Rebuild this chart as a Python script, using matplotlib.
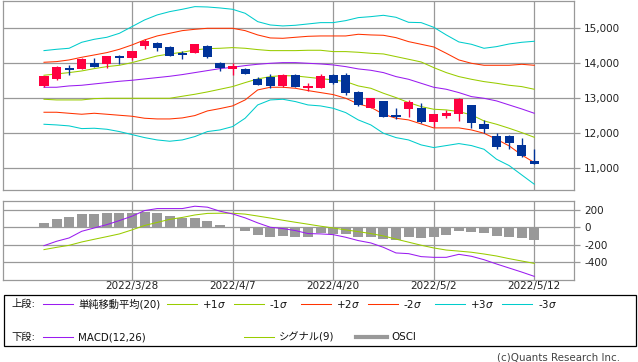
import matplotlib
matplotlib.use("Agg")
import matplotlib.pyplot as plt
from matplotlib.lines import Line2D
from matplotlib.patches import Rectangle

# ---------------- data ----------------
xtick_pos = [7, 15, 23, 31, 39]
xtick_labels = ["2022/3/28", "2022/4/7", "2022/4/20", "2022/5/2", "2022/5/12"]

opens = [13360, 13551, 13866, 13837, 14009, 13989, 14209, 14160, 14503, 14589,
         14466, 14274, 14303, 14494, 14017, 13846, 13846, 13551, 13617, 13351,
         13666, 13294, 13303, 13666, 13657, 13180, 12731, 12923, 12531, 12703,
         12723, 12331, 12503, 12560, 12809, 12266, 11923, 11923, 11666, 11209]
highs = [13650, 13923, 13951, 14140, 14151, 14220, 14237, 14351, 14686, 14609,
         14480, 14360, 14551, 14520, 14037, 13997, 13870, 13617, 13686, 13694,
         13694, 13446, 13694, 13694, 13731, 13217, 13000, 12923, 12731, 12951,
         12857, 12551, 12666, 13017, 12809, 12380, 12000, 11951, 11874, 11551]
lows = [13310, 13523, 13674, 13837, 13903, 13874, 13989, 14094, 14417, 14351,
        14217, 14123, 14280, 14160, 13780, 13674, 13703, 13380, 13286, 13331,
        13331, 13209, 13290, 13409, 13103, 12789, 12720, 12474, 12409, 12457,
        12294, 12180, 12446, 12360, 12160, 12000, 11551, 11560, 11331, 11131]
closes = [13637, 13894, 13817, 14123, 13903, 14209, 14160, 14351, 14637, 14446,
          14217, 14246, 14551, 14189, 13866, 13931, 13703, 13380, 13351, 13657,
          13331, 13360, 13646, 13446, 13143, 12817, 13000, 12474, 12474, 12903,
          12323, 12551, 12589, 12989, 12303, 12131, 11617, 11731, 11360, 11131]

ma20 = [13315, 13315, 13353, 13372, 13410, 13448, 13486, 13515, 13553, 13591,
        13629, 13677, 13734, 13791, 13848, 13886, 13934, 13972, 14000, 14019,
        14019, 14000, 13981, 13953, 13905, 13839, 13800, 13734, 13620, 13543,
        13429, 13315, 13258, 13163, 13048, 13000, 12925, 12810, 12696, 12572]
up1 = [13658, 13696, 13734, 13781, 13848, 13905, 13943, 14019, 14115, 14210,
       14267, 14315, 14381, 14419, 14429, 14448, 14429, 14391, 14362, 14362,
       14362, 14372, 14372, 14334, 14334, 14315, 14286, 14267, 14191, 14115,
       14038, 13877, 13734, 13620, 13543, 13477, 13429, 13372, 13334, 13258]
dn1 = [12972, 12953, 12953, 12953, 12991, 13000, 13000, 13000, 13000, 13000,
       13000, 13058, 13115, 13182, 13258, 13334, 13448, 13553, 13620, 13648,
       13639, 13601, 13563, 13524, 13477, 13353, 13286, 13144, 13020, 12877,
       12763, 12687, 12668, 12620, 12525, 12354, 12258, 12144, 12020, 11886]
up2 = [14029, 14048, 14096, 14172, 14238, 14305, 14400, 14524, 14667, 14781,
       14857, 14933, 14971, 15000, 15000, 15000, 14933, 14810, 14724, 14714,
       14743, 14771, 14781, 14781, 14781, 14829, 14810, 14800, 14733, 14619,
       14543, 14467, 14286, 14096, 14000, 13943, 13943, 13943, 13971, 13943]
dn2 = [12601, 12601, 12572, 12544, 12572, 12544, 12515, 12487, 12430, 12410,
       12410, 12439, 12506, 12639, 12706, 12782, 12953, 13239, 13315, 13315,
       13286, 13220, 13163, 13106, 13001, 12839, 12744, 12544, 12430, 12382,
       12268, 12154, 12154, 12154, 12096, 12001, 11830, 11640, 11382, 11163]
up3 = [14362, 14400, 14429, 14600, 14686, 14743, 14857, 15048, 15238, 15381,
       15476, 15543, 15619, 15609, 15581, 15543, 15429, 15190, 15095, 15067,
       15086, 15124, 15162, 15162, 15219, 15305, 15333, 15371, 15314, 15171,
       15162, 15029, 14810, 14610, 14543, 14429, 14476, 14552, 14600, 14629]
dn3 = [12258, 12239, 12211, 12134, 12144, 12115, 12049, 11963, 11877, 11810,
       11773, 11810, 11906, 12049, 12096, 12191, 12430, 12810, 12953, 12972,
       12906, 12810, 12782, 12715, 12591, 12382, 12239, 12001, 11877, 11810,
       11668, 11592, 11649, 11706, 11649, 11544, 11258, 11078, 10811, 10545]

macd = [-210, -160, -122, -46, -8, 30, 76, 126, 190, 213,
        213, 213, 240, 229, 183, 152, 107, 50, 0, -15,
        -38, -72, -76, -84, -114, -152, -179, -229, -293, -301,
        -335, -343, -343, -309, -331, -370, -419, -465, -511, -560]
signal = [-255, -229, -206, -168, -137, -107, -76, -30, 20, 55,
          90, 112, 140, 158, 160, 160, 150, 128, 105, 80,
          57, 35, 12, -8, -30, -50, -72, -99, -135, -170,
          -205, -236, -260, -272, -285, -305, -328, -358, -385, -412]
osci = [49, 94, 117, 151, 152, 163, 163, 163, 174, 163,
        129, 106, 106, 72, 26, 0, -38, -87, -108, -100,
        -108, -108, -63, -78, -82, -108, -108, -133, -140, -108,
        -120, -108, -84, -40, -57, -63, -97, -108, -120, -143]

y_ticks_top = [11000, 12000, 13000, 14000, 15000]
y_ticks_bot = [-400, -200, 0, 200]

# ---------------- style ----------------
W, H = 638, 362
C_MA = "#9a1cf0"
C_S1 = "#99cc00"
C_S2 = "#ff3300"
C_S3 = "#00cccc"
C_UP = "#ff0040"
C_DN = "#003399"
C_GRID = "#999999"
C_BAR = "#999999"
LW = 0.75

def fx(px):
    return px / W

def fy(py):
    return 1 - py / H

fig = plt.figure(figsize=(W / 100, H / 100), dpi=100)
fig.patch.set_facecolor("white")

ax1 = fig.add_axes([fx(3), fy(190.3), (574 - 3) / W, (190.3 - 0.5) / H])
ax2 = fig.add_axes([fx(3), fy(280.3), (574 - 3) / W, (280.3 - 201.3) / H])

n = len(closes)
xs = list(range(n))
xlim = (-3.26, 42.16)

for ax in (ax1, ax2):
    ax.set_xlim(*xlim)
    for sp in ax.spines.values():
        sp.set_color(C_GRID)
        sp.set_linewidth(LW * 1.2)
    ax.yaxis.tick_right()
    ax.set_xticks(xtick_pos)
    ax.grid(True, color=C_GRID, linewidth=LW * 1.2, zorder=0)
    ax.set_axisbelow(True)
    ax.tick_params(axis="y", direction="out", length=4.3, width=LW * 1.2,
                   color=C_GRID, labelsize=7.5, pad=3, labelcolor="#222222")

ax1.tick_params(axis="x", length=0, labelbottom=False)
ax2.tick_params(axis="x", length=0, pad=0.5, labelsize=7.5, labelcolor="#222222")
ax2.set_xticklabels(xtick_labels)

# ---------------- top panel ----------------
ax1.set_ylim(10371, 15794)
ax1.set_yticks(y_ticks_top)
ax1.set_yticklabels([f"{v:,}" for v in y_ticks_top])

for arr, c in ((up3, C_S3), (dn3, C_S3), (up2, C_S2), (dn2, C_S2),
               (up1, C_S1), (dn1, C_S1), (ma20, C_MA)):
    ax1.plot(xs, arr, color=c, linewidth=LW, zorder=2)

for i in xs:
    o, h, l, c = opens[i], highs[i], lows[i], closes[i]
    col = C_UP if c >= o else C_DN
    ax1.vlines(i, l, h, color=col, linewidth=LW * 1.3, zorder=3)
    body = max(abs(c - o), 40)
    ax1.bar(i, body, bottom=min(o, c), width=0.72, color=col, linewidth=0, zorder=4)

# ---------------- MACD panel ----------------
ax2.set_ylim(-605, 296)
ax2.set_yticks(y_ticks_bot)
ax2.set_yticklabels([str(v) for v in y_ticks_bot])
ax2.bar(xs, osci, width=0.8, color=C_BAR, linewidth=0, zorder=2)
ax2.plot(xs, signal, color=C_S1, linewidth=LW, zorder=3)
ax2.plot(xs, macd, color=C_MA, linewidth=LW, zorder=4)

# ---------------- legend box ----------------
fig.add_artist(Rectangle((fx(3.5), fy(346)), (636 - 3.5) / W, (346 - 295) / H,
                         transform=fig.transFigure, fill=False,
                         edgecolor="black", linewidth=0.9))

FAM = ["DejaVu Sans", "Noto Sans CJK JP"]
FS = 7.4

def ltext(px, py, s, **kw):
    fig.text(fx(px), fy(py), s, fontsize=FS, family=FAM, va="center",
             ha="left", color="#111111", **kw)

def lline(x0, x1, py, c, lw=LW):
    fig.add_artist(Line2D([fx(x0), fx(x1)], [fy(py), fy(py)],
                          transform=fig.transFigure, color=c, linewidth=lw))

r1 = 304
ltext(11, r1, "上段:")
lline(43, 73, r1, C_MA)
ltext(78, r1, "単純移動平均(20)")
lline(167, 197, r1, C_S1)
ltext(202, r1, "+1$\\sigma$")
lline(234, 264, r1, C_S1)
ltext(269, r1, "-1$\\sigma$")
lline(301, 331, r1, C_S2)
ltext(336, r1, "+2$\\sigma$")
lline(368, 398, r1, C_S2)
ltext(403, r1, "-2$\\sigma$")
lline(435, 465, r1, C_S3)
ltext(470, r1, "+3$\\sigma$")
lline(502, 532, r1, C_S3)
ltext(538, r1, "-3$\\sigma$")

r2 = 337
ltext(11, r2, "下段:")
lline(43, 73, r2, C_MA)
ltext(78, r2, "MACD(12,26)")
lline(244, 274, r2, C_S1)
ltext(279, r2, "シグナル(9)")
lline(356, 387, r2, C_BAR, lw=3.0)
ltext(391, r2, "OSCI")

fig.text(fx(620), fy(357), "(c)Quants Research Inc.", fontsize=FS, family=FAM,
         va="center", ha="right", color="#444444")

fig.savefig("out.png", dpi=100)
